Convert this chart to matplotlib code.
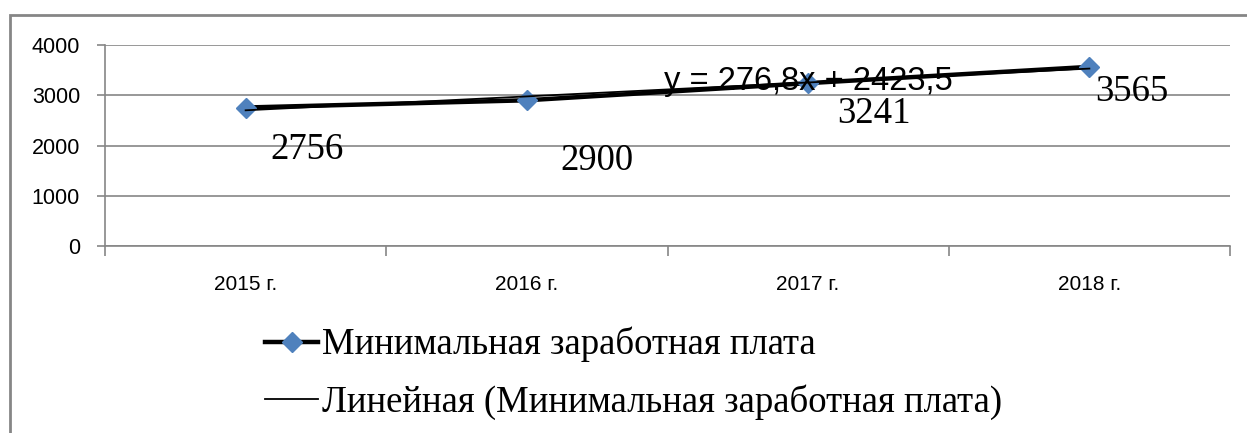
import numpy as np
import matplotlib.pyplot as plt
from matplotlib.patches import Rectangle

years = ['2015 г.', '2016 г.', '2017 г.', '2018 г.']
wage = [2756, 2900, 3241, 3565]
series_name = 'Минимальная заработная плата'
trend_name = 'Линейная (Минимальная заработная плата)'

# смещения подписей данных в пикселях (как в Excel)
label_offsets = [(61, -42), (70, -60), (66, -31), (42, -25)]

grid_col = '#868686'
serif = ['Liberation Serif', 'DejaVu Serif']
sans = ['Liberation Sans', 'DejaVu Sans']

fig = plt.figure(figsize=(12.47, 4.33), dpi=100)
ax = fig.add_axes([105 / 1247, 1 - 246 / 433, 1125 / 1247, 201 / 433])

x = np.arange(len(wage))

# линейный тренд (x = 1..4 как в Excel)
k, b = np.polyfit(x + 1, wage, 1)
trend = k * (x + 1) + b

l1, = ax.plot(x, wage, color='black', lw=3.2, marker='D', ms=10,
              mfc='#4F81BD', mec='#4F81BD', zorder=3)
l2, = ax.plot(x, trend, color='black', lw=1.3, zorder=4)

for xi, v, (dx, dy) in zip(x, wage, label_offsets):
    ax.annotate('%d' % v, (xi, v), xytext=(dx, dy), textcoords='offset pixels',
                ha='center', va='center', fontsize=26.5, family=serif, zorder=5)

eq = 'y = %.1fx + %.1f' % (k, b)
ax.text(0.625, 0.818, eq.replace('.', ','), transform=ax.transAxes,
        ha='center', va='center', fontsize=23.5, family=sans, zorder=5)

ax.set_xlim(-0.5, 3.5)
ax.set_ylim(0, 4000)
ax.set_yticks(range(0, 4001, 1000))
ax.set_xticks(x)
ax.set_xticklabels(years, family=sans, fontsize=15)
ax.set_xticks(np.arange(-0.5, 3.6, 1), minor=True)
ax.tick_params(axis='x', which='major', length=0, pad=21)
ax.tick_params(axis='x', which='minor', length=7, color=grid_col, width=1.2)
ax.tick_params(axis='y', length=6, color=grid_col, width=1.2, pad=12, labelsize=15.5)
for t in ax.get_yticklabels():
    t.set_family(sans)

ax.grid(axis='y', color=grid_col, lw=1.2)
ax.set_axisbelow(True)
for s in ['top', 'right']:
    ax.spines[s].set_visible(False)
ax.spines['left'].set_color(grid_col)
ax.spines['bottom'].set_color(grid_col)
ax.spines['left'].set_linewidth(1.2)
ax.spines['bottom'].set_linewidth(1.2)

fig.legend([l1, l2], [series_name, trend_name], loc='upper left',
           bbox_to_anchor=(265 / 1247, 1 - 327 / 433), frameon=False,
           prop={'family': serif, 'size': 26.5}, handlelength=1.45,
           handletextpad=0.1, labelspacing=0.6, borderaxespad=0, borderpad=0)

# рамка области диаграммы
fig.add_artist(Rectangle((10 / 1247, -0.1), 1.2, 1 - 15 / 433 + 0.1,
                         transform=fig.transFigure, fill=False,
                         ec=grid_col, lw=2, clip_on=False))

fig.savefig('out.png', dpi=100)
